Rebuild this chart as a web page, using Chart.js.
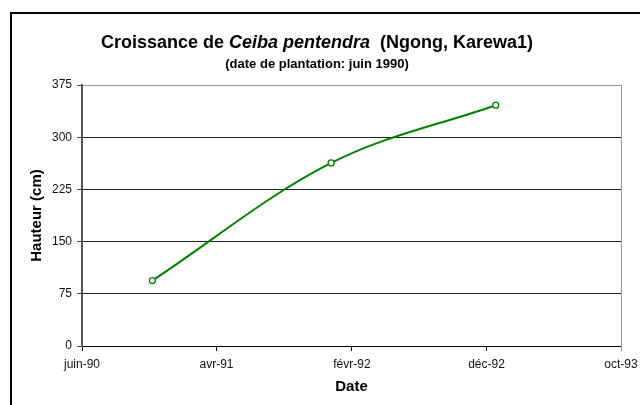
<!DOCTYPE html>
<html>
<head>
<meta charset="utf-8">
<script src="https://cdn.jsdelivr.net/npm/chart.js@4.4.1/dist/chart.umd.min.js"></script>
<style>
  html, body { margin: 0; padding: 0; background: #fff; }
  #wrap { position: relative; width: 640px; height: 405px; overflow: hidden; }
  #frame { position: absolute; left: 10px; top: 12px; width: 700px; height: 500px;
           border-left: 2px solid #000; border-top: 2px solid #000; pointer-events: none; }
  #title { position: absolute; left: 0; width: 634px; top: 31px; text-align: center;
           font: bold 18px "Liberation Sans", Arial, sans-serif; color: #000; line-height: 22px; white-space: pre; }
  #subtitle { position: absolute; left: 0; width: 634px; top: 56px; text-align: center;
           font: bold 13px "Liberation Sans", Arial, sans-serif; color: #000; line-height: 16px; }
  canvas { position: absolute; left: 0; top: 0; }
</style>
</head>
<body>
<div id="wrap">
  <canvas id="c" width="640" height="405"></canvas>
  <div id="frame"></div>
  <div id="title">Croissance de <i>Ceiba pentendra</i>  (Ngong, Karewa1)</div>
  <div id="subtitle">(date de plantation: juin 1990)</div>
</div>
<script>
// ---- data ----
const measureDates = ['1990-11-07', '1991-12-16', '1992-12-22'];
const heights = [94, 263, 346];
const xTickDates = ['1990-06-01', '1991-04-01', '1992-02-01', '1992-12-01', '1993-10-01'];
const xTickLabels = ['juin-90', 'avr-91', 'févr-92', 'déc-92', 'oct-93'];
const yTicks = [0, 75, 150, 225, 300, 375];
const seriesName = 'Hauteur';

const DAY = 86400000;
const toDay = s => Math.round(Date.parse(s + 'T00:00:00Z') / DAY);
const tickDays = xTickDates.map(toDay);
const points = measureDates.map((d, i) => ({ x: toDay(d), y: heights[i] }));

const FONT = '"Liberation Sans", Arial, sans-serif';

const plotBorder = {
  id: 'plotBorder',
  afterDraw(chart) {
    const { ctx, chartArea: a } = chart;
    ctx.save();
    ctx.strokeStyle = '#999';
    ctx.lineWidth = 1;
    ctx.beginPath();
    const r = Math.round(a.right) + 0.5;
    ctx.moveTo(r, Math.round(a.top));
    ctx.lineTo(r, Math.round(a.bottom) + 5);
    ctx.stroke();
    ctx.restore();
  }
};

new Chart(document.getElementById('c'), {
  type: 'line',
  data: {
    datasets: [{
      label: seriesName,
      data: points,
      borderColor: '#008000',
      borderWidth: 2,
      tension: 0.35,
      pointRadius: 3,
      pointBorderWidth: 1.3,
      pointBackgroundColor: '#fff',
      pointBorderColor: '#008000',
      fill: false
    }]
  },
  options: {
    responsive: false,
    animation: false,
    events: [],
    layout: { padding: { top: 85, right: 19, left: 0, bottom: 0 } },
    plugins: { legend: { display: false }, tooltip: { enabled: false }, title: { display: false } },
    scales: {
      x: {
        type: 'linear',
        min: tickDays[0],
        max: tickDays[tickDays.length - 1],
        afterBuildTicks: s => { s.ticks = tickDays.map(v => ({ value: v })); },
        afterFit: s => { s.height = 405 - 346; s.paddingLeft = 0; s.paddingRight = 0; },
        ticks: {
          autoSkip: false, maxRotation: 0, padding: 6,
          color: '#111', font: { family: FONT, size: 12 },
          callback: (v, i) => xTickLabels[i]
        },
        grid: { drawOnChartArea: false, drawTicks: true, tickLength: 5, color: '#000', tickWidth: 1 },
        border: { color: '#000', width: 1 },
        title: { display: true, text: 'Date', color: '#000', font: { family: FONT, size: 15, weight: 'bold' }, padding: { top: 0, bottom: 9 } }
      },
      y: {
        min: 0, max: 375,
        afterBuildTicks: s => { s.ticks = yTicks.map(v => ({ value: v })); },
        afterFit: s => { s.width = 82; s.paddingTop = 0; s.paddingBottom = 0; },
        ticks: { padding: 5, color: '#111', font: { family: FONT, size: 12 } },
        grid: {
          color: c => (c.tick && c.tick.value === 375) ? '#999' : '#222',
          lineWidth: 1, tickLength: 5, drawTicks: true, tickColor: '#444'
        },
        border: { color: '#555', width: 2 },
        title: { display: true, text: 'Hauteur (cm)', color: '#000', font: { family: FONT, size: 15, weight: 'bold' }, padding: { top: 28, bottom: 0 } }
      }
    }
  },
  plugins: [plotBorder]
});
</script>
</body>
</html>
